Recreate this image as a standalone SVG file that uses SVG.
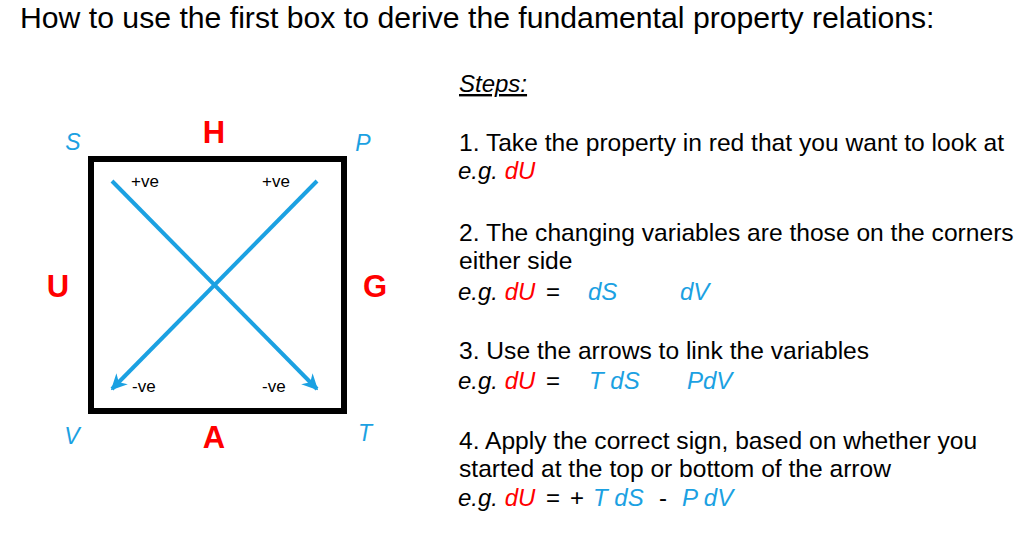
<svg xmlns="http://www.w3.org/2000/svg" width="1020" height="536" viewBox="0 0 1020 536">
<defs>
<style>
text{font-family:"Liberation Sans",Arial,sans-serif;}
.t{font-size:24px;fill:#000;}
.s{font-size:24.6px;fill:#000;}
.i{font-style:italic;}
.r{fill:#ff0000;}
.b{fill:#1ba1e2;}
.big{font-size:31px;font-weight:bold;fill:#ff0000;text-anchor:middle;}
.cor{font-size:23px;font-style:italic;fill:#1ba1e2;text-anchor:middle;}
.ve{font-size:17px;fill:#000;}
.arr{stroke:#1ba1e2;stroke-width:4;fill:none;marker-end:url(#ah);}
</style>
<marker id="ah" viewBox="0 0 10 10" refX="9" refY="5" markerWidth="4" markerHeight="4" orient="auto" markerUnits="strokeWidth">
<path d="M0,0 L10,5 L0,10 L3,5 z" fill="#1ba1e2"/>
</marker>
</defs>
<rect width="1020" height="536" fill="#fff"/>
<text x="20" y="28" font-size="30.2" fill="#000">How to use the first box to derive the fundamental property relations:</text>

<g id="box">
<rect x="91" y="159" width="253" height="252" fill="none" stroke="#000" stroke-width="6"/>
</g>
<g id="connectors">
<line class="arr" x1="112" y1="181" x2="317" y2="389"/>
<line class="arr" x1="317" y1="181" x2="112" y2="389"/>
</g>
<g id="signs">
<text class="ve" x="131" y="187">+ve</text>
<text class="ve" x="262" y="187">+ve</text>
<text class="ve" x="132" y="392">-ve</text>
<text class="ve" x="262" y="392">-ve</text>
</g>
<g id="node-H"><text class="big" x="214" y="143">H</text></g>
<g id="node-U"><text class="big" x="58" y="297">U</text></g>
<g id="node-G"><text class="big" x="375" y="297">G</text></g>
<g id="node-A"><text class="big" x="214" y="448">A</text></g>
<g id="node-S"><text class="cor" x="73" y="150">S</text></g>
<g id="node-P"><text class="cor" x="363" y="151">P</text></g>
<g id="node-V"><text class="cor" x="72" y="444">V</text></g>
<g id="node-T"><text class="cor" x="365" y="441">T</text></g>

<g id="steps">
<text class="t i" x="459" y="92" text-decoration="underline">Steps:</text>
<text class="s" x="459" y="151">1. Take the property in red that you want to look at</text>
<text class="t" x="458" y="179"><tspan class="i">e.g. </tspan><tspan class="i r">dU</tspan></text>
<text class="s" x="459" y="241">2. The changing variables are those on the corners</text>
<text class="s" x="459" y="269">either side</text>
<text class="t" x="458" y="300"><tspan class="i">e.g. </tspan><tspan class="i r">dU</tspan></text>
<text class="t" x="546" y="300">=</text>
<text class="t i b" x="588" y="300">dS</text>
<text class="t i b" x="680" y="300">dV</text>
<text class="s" x="459" y="359">3. Use the arrows to link the variables</text>
<text class="t" x="458" y="389"><tspan class="i">e.g. </tspan><tspan class="i r">dU</tspan></text>
<text class="t" x="546" y="389">=</text>
<text class="t i b" x="589" y="389">T dS</text>
<text class="t i b" x="687" y="389">PdV</text>
<text class="s" x="459" y="449">4. Apply the correct sign, based on whether you</text>
<text class="s" x="459" y="477">started at the top or bottom of the arrow</text>
<text class="t" x="458" y="506"><tspan class="i">e.g. </tspan><tspan class="i r">dU</tspan></text>
<text class="t" x="546" y="506">=</text>
<text class="t" x="570" y="506">+</text>
<text class="t i b" x="593" y="506">T dS</text>
<text class="t" x="659" y="506">-</text>
<text class="t i b" x="682" y="506">P dV</text>
</g>
</svg>
